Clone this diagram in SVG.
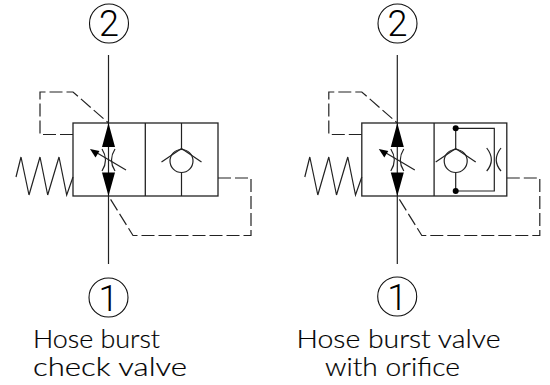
<svg xmlns="http://www.w3.org/2000/svg" width="550" height="385" viewBox="0 0 550 385">
<style>
.l{fill:none;stroke:#222;stroke-width:1.2}
.w{fill:none;stroke:#222;stroke-width:1.3}
.d{fill:none;stroke:#222;stroke-width:1.2;stroke-dasharray:13 4}
.f{fill:#000;stroke:none}
.c{fill:#fff;stroke:#111;stroke-width:1.1}
text{font-family:"Lato","Liberation Sans",sans-serif;font-weight:300;font-size:24.500px;fill:#000;stroke:#000;stroke-width:0.2}
text.n{font-family:"Roboto","Liberation Sans",sans-serif;font-weight:300;font-size:36px;text-anchor:middle;stroke:none}
</style>
<defs>
<g id="valve">
<rect class="w" x="73" y="123" width="145" height="73"/>
<path class="w" d="M145.300 123V196"/>
<path class="l" d="M16 177L21 157L29 195L40 157L47.700 195L59 157L66.700 195L73 177"/>
<path class="f" d="M108.500 123L115 147H102L108.500 123ZM102 172.500H115L108.500 196Z"/>
<path class="l" d="M102 149Q109 160 102 171M115 149Q108 160 115 171"/>
<path class="l" d="M126 170L93 150.500"/>
<path class="f" d="M90 149L99.500 151L95.500 157.500Z"/>
</g>
<g id="check">
<circle class="l" cx="181.500" cy="161" r="11.500"/>
<path class="l" d="M161.500 162L181.500 148.500L201.500 162"/>
</g>
</defs>
<g id="connectors">
<path class="l" d="M108.500 55V264"/>
<path class="l" d="M397.300 55V264"/>
<path class="d" d="M73 134.500H40V92H73L108.500 123"/>
<path class="d" d="M218 178H251V235.500H133L108.500 196"/>
<path class="d" d="M361.800 134.500H328.800V92H361.800L397.300 123"/>
<path class="d" d="M506.800 178H539.800V235.500H421.800L397.300 196"/>
</g>
<g id="valve-left">
<use href="#valve"/>
<use href="#check"/>
<path class="l" d="M181.500 123V148.500M181.500 172.500V196"/>
</g>
<g id="valve-right">
<use href="#valve" x="288.800"/>
<g transform="translate(274.200 0)"><use href="#check"/></g>
<path class="l" d="M455.700 128.300V148.500M455.700 172.500V191M455.700 128.300H494.300V191H455.700"/>
<circle class="f" cx="455.700" cy="128.300" r="3"/>
<circle class="f" cx="455.700" cy="191" r="3"/>
<path class="l" d="M486.700 148Q496 160 486.700 171M501 148Q491.500 160 501 171"/>
</g>
<g id="port-2-left"><circle class="c" cx="109" cy="23.500" r="19.500"/><text class="n" x="109" y="36">2</text></g>
<g id="port-2-right"><circle class="c" cx="397.500" cy="23.500" r="19.500"/><text class="n" x="397.500" y="36">2</text></g>
<g id="port-1-left"><circle class="c" cx="108.500" cy="297.500" r="19.500"/><text class="n" x="108.500" y="310.500">1</text></g>
<g id="port-1-right"><circle class="c" cx="397.200" cy="296.500" r="19.500"/><text class="n" x="397.200" y="309.500">1</text></g>
<g id="label-left">
<text x="33" y="348" textLength="127" lengthAdjust="spacingAndGlyphs">Hose burst</text>
<text x="33" y="376" textLength="154" lengthAdjust="spacingAndGlyphs">check valve</text>
</g>
<g id="label-right">
<text x="296.500" y="348" textLength="204" lengthAdjust="spacingAndGlyphs">Hose burst valve</text>
<text x="325" y="376" textLength="135" lengthAdjust="spacingAndGlyphs">with orifice</text>
</g>
</svg>
